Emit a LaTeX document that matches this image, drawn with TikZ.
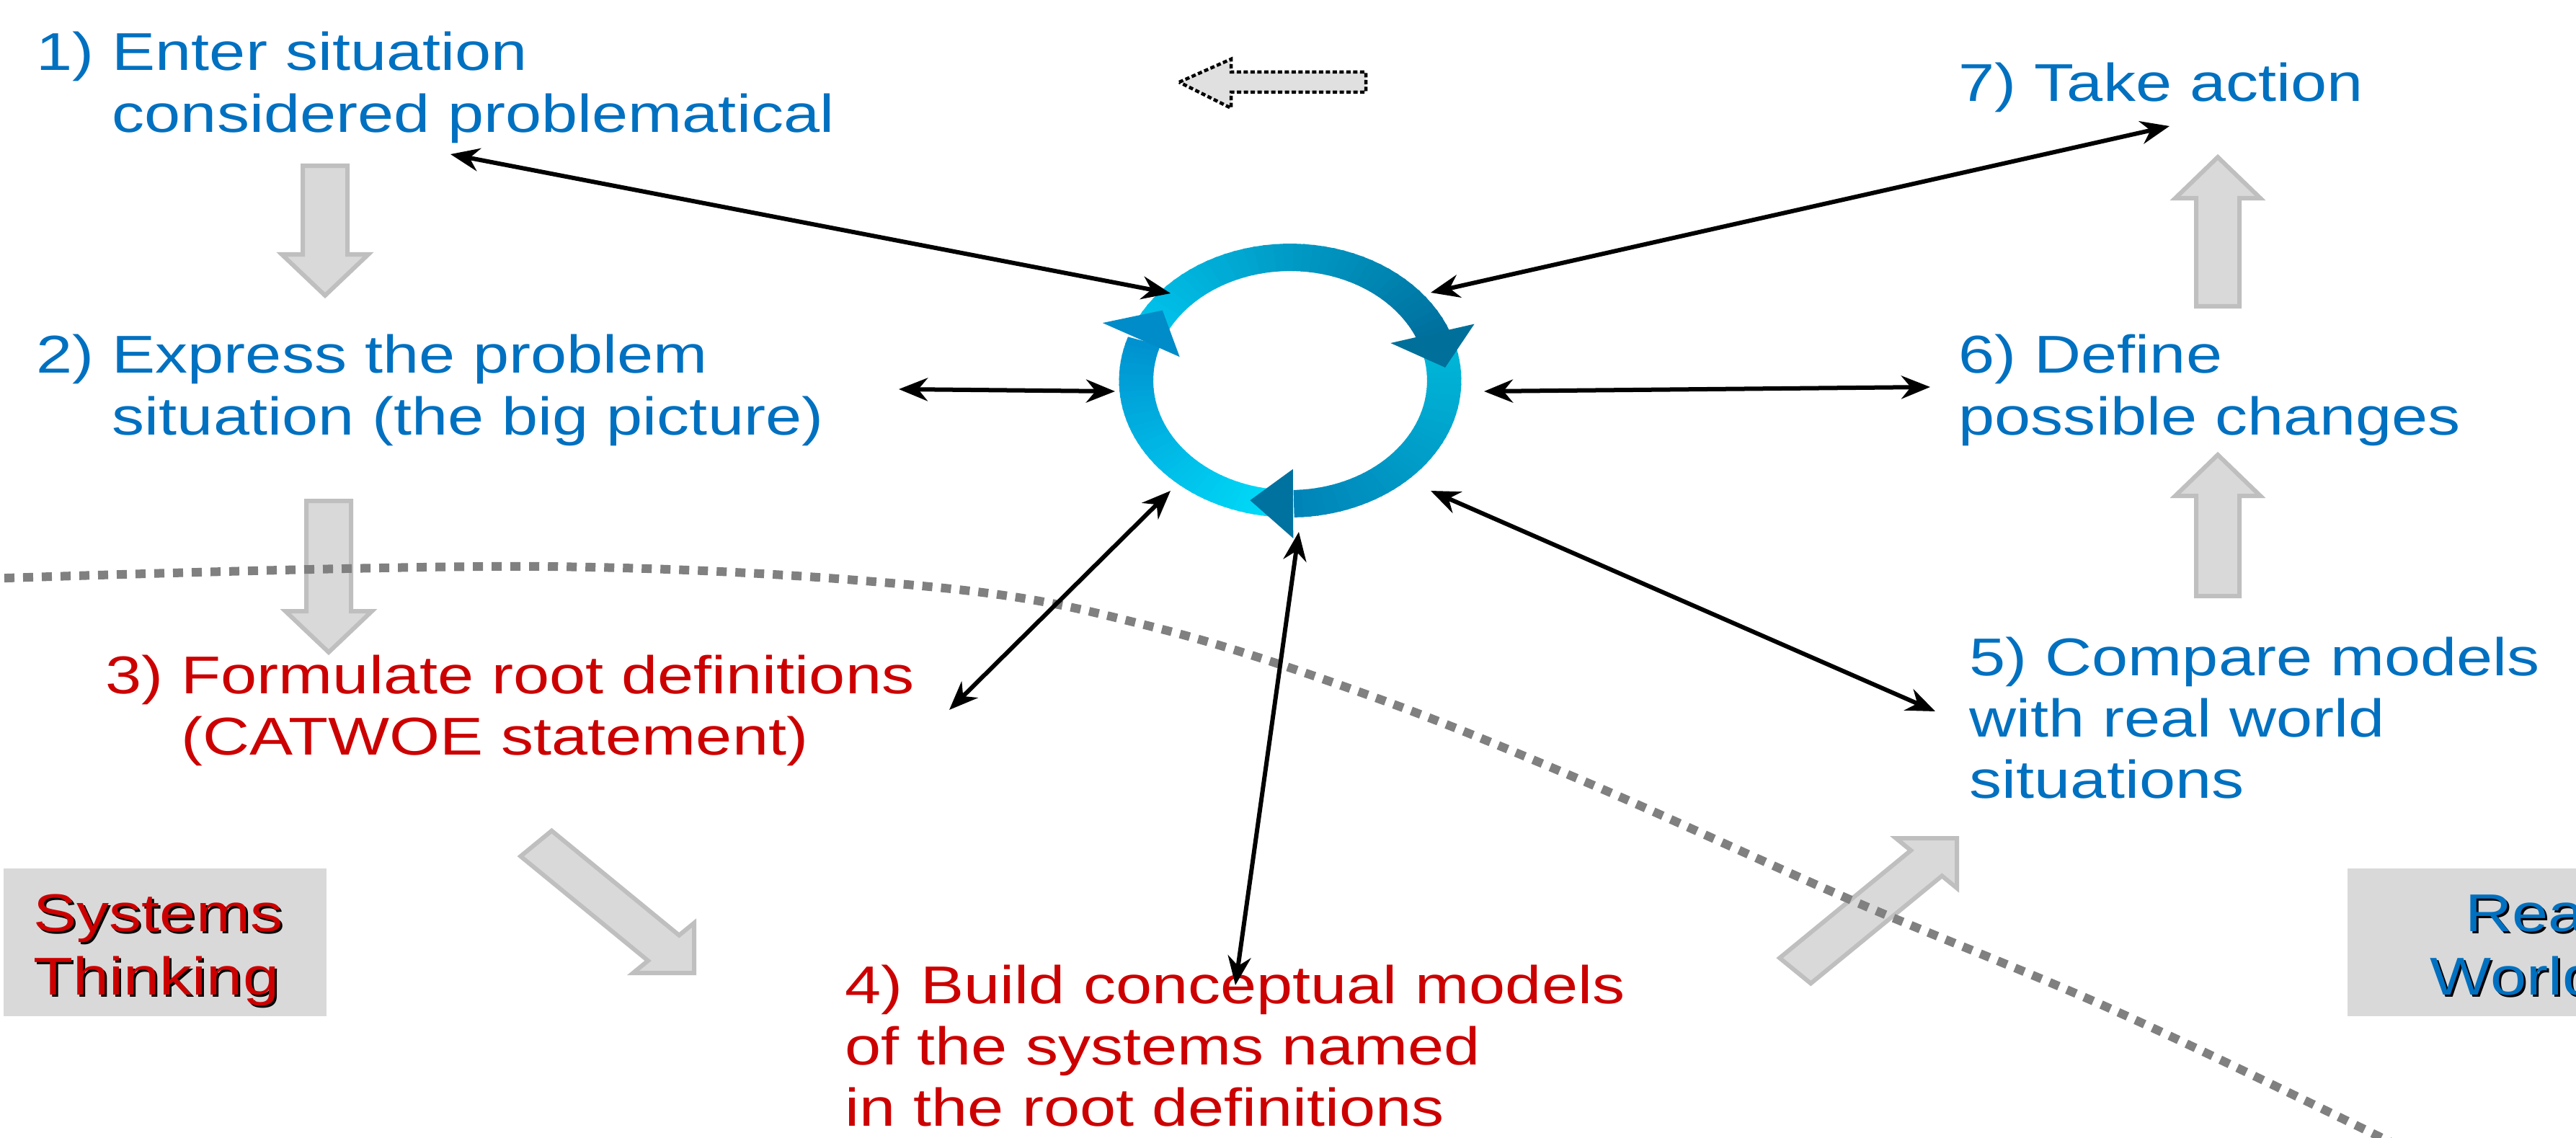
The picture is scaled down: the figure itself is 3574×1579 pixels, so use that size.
\documentclass[tikz,border=0pt]{standalone}
\usepackage{fontspec}
\setmainfont{Liberation Sans}[FakeStretch=1.22]
\usetikzlibrary{arrows.meta}
\definecolor{sblue}{RGB}{0,112,192}
\definecolor{sred}{RGB}{204,0,0}
\definecolor{boxgray}{RGB}{217,217,217}
\definecolor{arrgray}{RGB}{191,191,191}
\definecolor{dotgray}{RGB}{128,128,128}
\definecolor{topfill}{RGB}{224,224,224}
\definecolor{caL}{RGB}{0,196,236}
\definecolor{caD}{RGB}{0,112,158}
\definecolor{cbL}{RGB}{0,182,216}
\definecolor{cbD}{RGB}{0,132,184}
\definecolor{ccL}{RGB}{0,218,248}
\definecolor{ccD}{RGB}{0,146,208}
\definecolor{haC}{RGB}{0,112,154}
\definecolor{hbC}{RGB}{0,114,160}
\definecolor{hcC}{RGB}{0,140,200}
\def\ringin{152}
\def\ringout{190}
\newcommand{\ringseg}[4]{%
  \foreach \k in {0,...,39}{%
    \pgfmathsetmacro\ra{(#1)+((#2)-(#1))*\k/40}%
    \pgfmathsetmacro\rb{(#1)+((#2)-(#1))*(\k+1.25)/40}%
    \pgfmathtruncatemacro\rp{100*\k/39}%
    \colorlet{ringcur}{#4!\rp!#3}%
    \fill[ringcur] (\ra:\ringin) -- (\ra:\ringout) -- (\rb:\ringout) -- (\rb:\ringin) -- cycle;
  }}
\begin{document}
\begin{tikzpicture}[x=0.01cm, y=-0.01cm,
  txt/.style={inner sep=0pt, anchor=base west, font=\fontsize{21}{24.3}\selectfont},
  blockarr/.style={fill=boxgray, draw=arrgray, line width=0.06cm, line join=miter},
  conn/.style={{Stealth[length=0.4cm,width=0.32cm]}-{Stealth[length=0.4cm,width=0.32cm]}, line width=0.06cm, draw=black},
  dotline/.style={draw=dotgray, line width=0.12cm, dash pattern=on 0.14cm off 0.12cm},
  toparr/.style={fill=topfill, draw=black, line width=0.045cm, dash pattern=on 0.06cm off 0.035cm},
  graybox/.style={fill=boxgray, inner sep=0pt, minimum width=4.48cm, minimum height=2.05cm}]
\useasboundingbox (0,0) rectangle (3574,1579);
\clip (0,0) rectangle (3574,1579);
\fill[white] (0,0) rectangle (3574,1579);

% gray label boxes
\node[graybox] (st) at (229,1307.5) {};
\node[graybox] (rw) at (3481,1307.5) {};
\node[txt, text=black] (stsh) at (49,1295) {\vtop{\baselineskip=0.88cm\hbox{Systems}\hbox{Thinking}}};
\node[txt, text=sred] (sttx) at (46,1292) {\vtop{\baselineskip=0.88cm\hbox{Systems}\hbox{Thinking}}};
\node[txt, text=black] (rwsh) at (3606,1295) {\vtop{\baselineskip=0.88cm\hbox{\llap{Real}}\hbox{\llap{World}}}};
\node[txt, text=sblue] (rwtx) at (3603,1292) {\vtop{\baselineskip=0.88cm\hbox{\llap{Real}}\hbox{\llap{World}}}};

% step texts
\node[txt, text=sblue] (t1) at (50,98) {\vtop{\hbox{1) Enter situation}\hbox{\phantom{1) }considered problematical}}};
\node[txt, text=sblue] (t2) at (50,518) {\vtop{\hbox{2) Express the problem}\hbox{\phantom{2) }situation (the big picture)}}};
\node[txt, text=sred] (t3) at (146,962) {\vtop{\hbox{3) Formulate root definitions}\hbox{\phantom{3) }(CATWOE statement)}}};
\node[txt, text=sred] (t4) at (1172,1392) {\vtop{\hbox{4) Build conceptual models}\hbox{of the systems named}\hbox{in the root definitions}}};
\node[txt, text=sblue] (t5) at (2732,937) {\vtop{\hbox{5) Compare models}\hbox{with real world}\hbox{situations}}};
\node[txt, text=sblue] (t6) at (2717,518) {\vtop{\hbox{6) Define}\hbox{possible changes}}};
\node[txt, text=sblue] (t7) at (2717,141) {7) Take action};

% block arrows
\draw[blockarr] (420,230) -- (482,230) -- (482,353) -- (511,353) -- (451,410) -- (391,353) -- (420,353) -- cycle;
\draw[blockarr] (425,695) -- (487,695) -- (487,848) -- (516,848) -- (456,905) -- (396,848) -- (425,848) -- cycle;
\draw[blockarr] (3077,218) -- (3136,275) -- (3107,275) -- (3107,425) -- (3047,425) -- (3047,275) -- (3018,275) -- cycle;
\draw[blockarr] (3077,631) -- (3136,688) -- (3107,688) -- (3107,827) -- (3047,827) -- (3047,688) -- (3018,688) -- cycle;
\draw[blockarr] (963,1350) -- (878.4,1350) -- (899.1,1333.0) -- (722.3,1188.1) -- (765.4,1152.7) -- (942.2,1297.7) -- (963,1280.7) -- cycle;
\draw[blockarr] (2715,1163) -- (2715,1232.3) -- (2694.3,1215.3) -- (2512.3,1364.5) -- (2469.1,1329.2) -- (2651.1,1180.0) -- (2630.4,1163) -- cycle;

% top dashed arrow
\draw[toparr] (1636,114) -- (1708,82) -- (1708,100) -- (1895,100) -- (1895,128) -- (1708,128) -- (1708,150) -- cycle;

% boundary curve
\draw[dotline] plot[smooth, tension=0.6] coordinates {(-20,803) (752,786) (1300,815) (1600,870) (1900,965) (2200,1085) (2571,1250) (2929,1400) (3305,1579) (3400,1630)};

% cycle ring
\begin{scope}[shift={(1790,528)}, xscale=1.25, yscale=-1]
  \ringseg{157}{21}{caL}{caD}
  \ringseg{14}{-88}{cbL}{cbD}
  \ringseg{-97}{-198}{ccL}{ccD}
  \fill[haC] (25:123) -- (21:219) -- (6:173) -- cycle;
  \fill[hbC] (-88.6:123) -- (-89.1:219) -- (-105:172) -- cycle;
  \fill[hcC] (165:127) -- (159:223) -- (145.5:172) -- cycle;
\end{scope}

% connector end points
\coordinate (e1) at (625,214);   \coordinate (r1) at (1624,407);
\coordinate (e2) at (1247,540);  \coordinate (r2) at (1547,543);
\coordinate (e3) at (1317,985);  \coordinate (r3) at (1624,681);
\coordinate (e4) at (1714,1367); \coordinate (r4) at (1802,738);
\coordinate (e5) at (2685,987);  \coordinate (r5) at (1985,681);
\coordinate (e6) at (2678,537);  \coordinate (r6) at (2059,543);
\coordinate (e7) at (3010,175);  \coordinate (r7) at (1985,406);

\draw[conn] (e1) -- (r1);
\draw[conn] (e2) -- (r2);
\draw[conn] (e3) -- (r3);
\draw[conn] (e4) -- (r4);
\draw[conn] (e5) -- (r5);
\draw[conn] (e6) -- (r6);
\draw[conn] (r7) -- (e7);
\end{tikzpicture}
\end{document}
